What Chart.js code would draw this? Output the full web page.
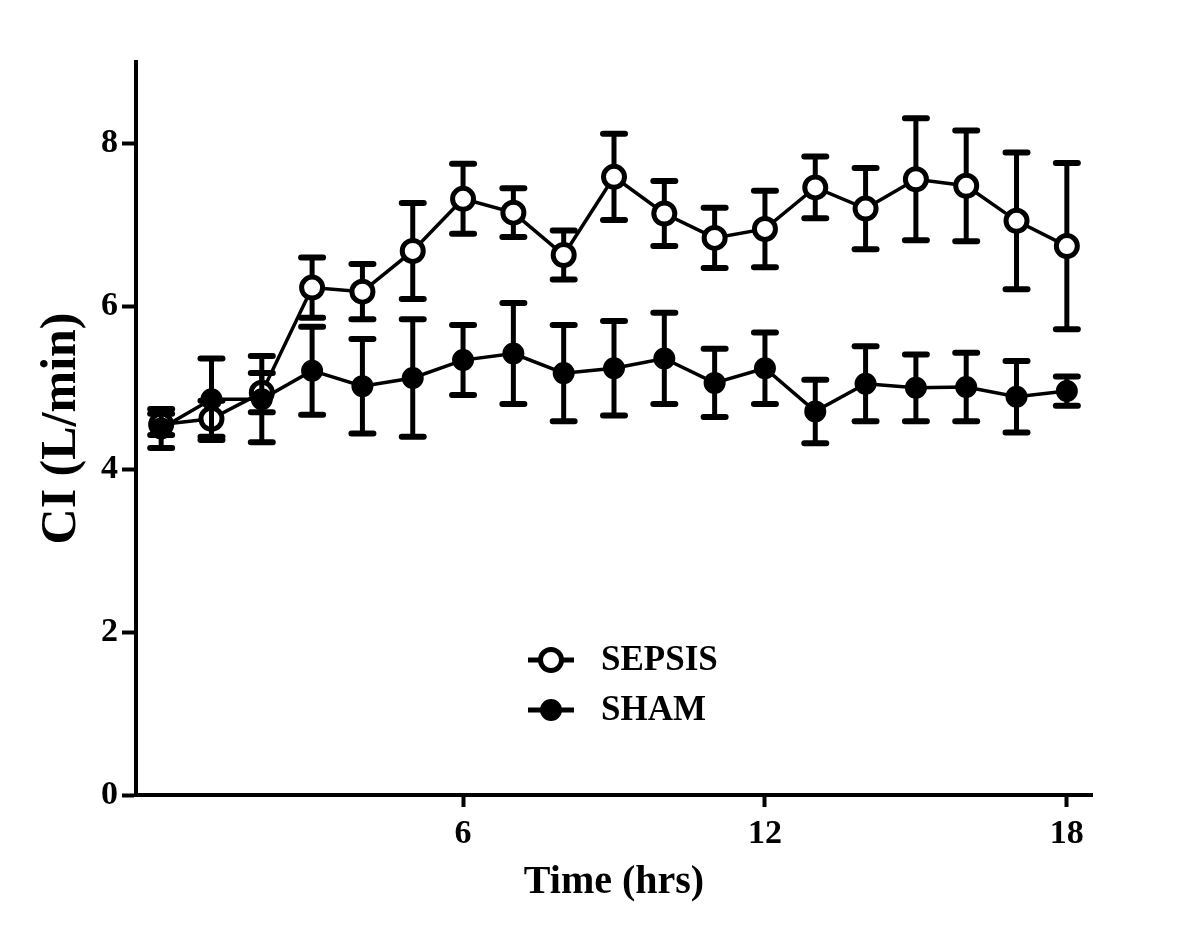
<!DOCTYPE html>
<html lang="en">
<head>
    <meta charset="UTF-8">
    <title>CI over time: SEPSIS vs SHAM</title>
    <script src="https://cdn.jsdelivr.net/npm/chart.js"></script>
    <style>
        body {
            margin: 0;
            background: #fff;
        }
        canvas {
            display: block;
        }
    </style>
</head>
<body>

<canvas id="ciChart" width="1200" height="935"></canvas>

<script>
    // time points (hrs) and tick labels
    const hours = [0, 1, 2, 3, 4, 5, 6, 7, 8, 9, 10, 11, 12, 13, 14, 15, 16, 17, 18];
    const xTicks = [6, 12, 18];
    const yTicks = [0, 2, 4, 6, 8];

    // SEPSIS group: mean and error (SEM)
    const sepsisMean = [4.55, 4.62, 4.94, 6.23, 6.18, 6.68, 7.32, 7.15, 6.63, 7.59, 7.14, 6.84, 6.95, 7.46, 7.20, 7.56, 7.48, 7.05, 6.74];
    const sepsisErr = [0.13, 0.22, 0.24, 0.37, 0.34, 0.59, 0.43, 0.30, 0.30, 0.53, 0.40, 0.37, 0.47, 0.38, 0.50, 0.75, 0.68, 0.84, 1.02];

    // SHAM group
    const shamMean = [4.50, 4.86, 4.86, 5.21, 5.02, 5.12, 5.34, 5.42, 5.18, 5.24, 5.36, 5.06, 5.24, 4.71, 5.05, 5.00, 5.01, 4.89, 4.96];
    const shamErr = [0.24, 0.50, 0.53, 0.54, 0.58, 0.72, 0.43, 0.62, 0.59, 0.58, 0.56, 0.42, 0.44, 0.39, 0.46, 0.41, 0.42, 0.44, 0.18];

    const errors = [sepsisErr, shamErr];

    Chart.defaults.font.family = '"Liberation Serif", "Times New Roman", serif';
    Chart.defaults.font.weight = 'bold';
    Chart.defaults.color = '#000';

    // error bars drawn just before each dataset, so points sit on top
    const errorBars = {
        id: 'errorBars',
        beforeDatasetDraw(chart, args) {
            const ctx = chart.ctx;
            const x = chart.scales.x, y = chart.scales.y;
            const ds = chart.data.datasets[args.index];
            const err = errors[args.index];
            ctx.save();
            ctx.strokeStyle = '#000';
            ds.data.forEach((p, i) => {
                const px = x.getPixelForValue(p.x);
                const top = y.getPixelForValue(p.y + err[i]);
                const bot = y.getPixelForValue(p.y - err[i]);
                ctx.lineWidth = 5;
                ctx.lineCap = 'butt';
                ctx.beginPath();
                ctx.moveTo(px, top);
                ctx.lineTo(px, bot);
                ctx.stroke();
                ctx.lineWidth = 6;
                ctx.lineCap = 'round';
                ctx.beginPath();
                ctx.moveTo(px - 11, top);
                ctx.lineTo(px + 11, top);
                ctx.moveTo(px - 11, bot);
                ctx.lineTo(px + 11, bot);
                ctx.stroke();
            });
            ctx.restore();
        }
    };

    // legend inside the plot, lower middle
    const insideLegend = {
        id: 'insideLegend',
        afterDraw(chart) {
            const ctx = chart.ctx;
            const rows = [660, 710];
            ctx.save();
            chart.data.datasets.forEach((ds, i) => {
                const cy = rows[i];
                ctx.strokeStyle = '#000';
                ctx.lineWidth = 5;
                ctx.beginPath();
                ctx.moveTo(528, cy);
                ctx.lineTo(574, cy);
                ctx.stroke();
                ctx.beginPath();
                ctx.arc(551, cy, ds.pointRadius, 0, Math.PI * 2);
                ctx.fillStyle = ds.pointBackgroundColor;
                ctx.fill();
                ctx.lineWidth = ds.pointBorderWidth;
                ctx.stroke();
                ctx.fillStyle = '#000';
                ctx.font = 'bold 35px "Liberation Serif", "Times New Roman", serif';
                ctx.textBaseline = 'middle';
                ctx.textAlign = 'left';
                ctx.fillText(ds.label, 601, cy + 1);
            });
            ctx.restore();
        }
    };

    new Chart(document.getElementById('ciChart'), {
        type: 'line',
        data: {
            datasets: [{
                label: 'SEPSIS',
                data: hours.map((h, i) => ({x: h, y: sepsisMean[i]})),
                borderColor: '#000',
                borderWidth: 3.5,
                pointRadius: 10.5,
                pointHoverRadius: 10.5,
                pointBorderWidth: 5,
                pointBackgroundColor: '#fff',
                pointBorderColor: '#000',
                order: 1
            }, {
                label: 'SHAM',
                data: hours.map((h, i) => ({x: h, y: shamMean[i]})),
                borderColor: '#000',
                borderWidth: 3.5,
                pointRadius: 10,
                pointHoverRadius: 10,
                pointBorderWidth: 2,
                pointBackgroundColor: '#000',
                pointBorderColor: '#000',
                order: 0
            }]
        },
        options: {
            responsive: false,
            animation: false,
            layout: {
                padding: {top: 62, right: 108, left: 0, bottom: 0}
            },
            plugins: {
                legend: {display: false},
                tooltip: {enabled: false}
            },
            scales: {
                x: {
                    type: 'linear',
                    min: -0.5,
                    max: 18.5,
                    afterBuildTicks: s => { s.ticks = xTicks.map(v => ({value: v})); },
                    afterFit: s => { s.height = 140; },
                    border: {display: true, color: '#000', width: 4},
                    grid: {drawOnChartArea: false, drawTicks: true, tickLength: 12, tickColor: '#000', tickWidth: 4},
                    ticks: {font: {size: 34}, padding: 7, maxRotation: 0},
                    title: {
                        display: true,
                        text: 'Time (hrs)',
                        font: {size: 40, lineHeight: 1},
                        padding: {top: 0, bottom: 32}
                    }
                },
                y: {
                    min: 0,
                    max: 9,
                    afterBuildTicks: s => { s.ticks = yTicks.map(v => ({value: v})); },
                    afterFit: s => { s.width = 136; },
                    border: {display: true, color: '#000', width: 4},
                    grid: {drawOnChartArea: false, drawTicks: true, tickLength: 14, tickColor: '#000', tickWidth: 4},
                    ticks: {font: {size: 34}, padding: 4},
                    title: {
                        display: true,
                        text: 'CI (L/min)',
                        font: {size: 50, lineHeight: 1},
                        padding: {top: 37, bottom: 0}
                    }
                }
            }
        },
        plugins: [errorBars, insideLegend]
    });
</script>
</body>
</html>
